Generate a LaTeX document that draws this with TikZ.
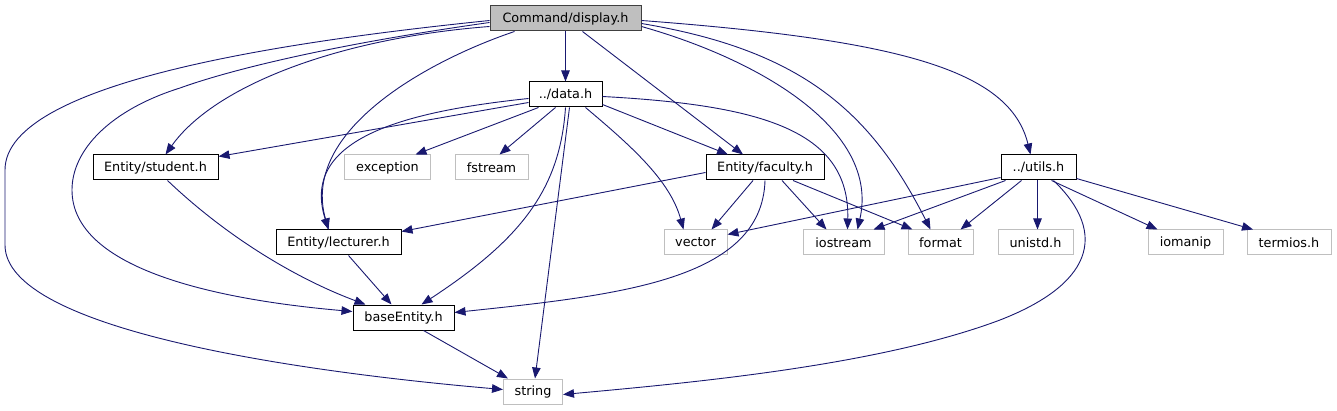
\documentclass[tikz,border=0pt]{standalone}
\usepackage{fontspec}
\setmainfont{DejaVu Sans}
\usepackage{tikz}
\usetikzlibrary{arrows.meta,positioning,calc}
\definecolor{edgeblue}{HTML}{191970}
\definecolor{sysgray}{HTML}{BFBFBF}
\definecolor{topgray}{HTML}{BFBFBF}
\definecolor{frame}{HTML}{404040}

\begin{document}
\begin{tikzpicture}[
  x=1pt,y=-1pt,
  font=\fontsize{12.8}{15}\selectfont,
  file/.style={draw,rectangle,inner sep=0pt,minimum height=25,line width=1pt},
  topfile/.style={file,draw=frame,fill=topgray},
  incfile/.style={file,draw=black},
  sysfile/.style={file,draw=sysgray},
  inc/.style={-{Triangle[length=11pt,width=8.5pt]},line width=0.9pt,draw=edgeblue,fill=none}
]
\useasboundingbox (0,0) rectangle (1337,411);
% files
\node[topfile,minimum width=151] (display) at (565.5,18.5) {Command/display.h};
\node[incfile,minimum width=73] (data) at (565.5,94.5) {../data.h};
\node[incfile,minimum width=125] (student) at (155.5,167.5) {Entity/student.h};
\node[sysfile,minimum width=86] (exception) at (387.5,167.5) {exception};
\node[sysfile,minimum width=73] (fstream) at (491.5,167.5) {fstream};
\node[incfile,minimum width=118] (faculty) at (765,167.5) {Entity/faculty.h};
\node[incfile,minimum width=75] (utils) at (1038.5,167.5) {../utils.h};
\node[incfile,minimum width=125] (lecturer) at (338.5,242.5) {Entity/lecturer.h};
\node[sysfile,minimum width=63] (vector) at (695.5,242.5) {vector};
\node[sysfile,minimum width=81] (iostream) at (843.5,242.5) {iostream};
\node[sysfile,minimum width=65] (format) at (940.5,242.5) {format};
\node[sysfile,minimum width=75] (unistd) at (1035.5,242.5) {unistd.h};
\node[sysfile,minimum width=75] (iomanip) at (1185.5,242.5) {iomanip};
\node[sysfile,minimum width=84] (termios) at (1289,242.5) {termios.h};
\node[incfile,minimum width=101] (baseEntity) at (403.5,317.5) {baseEntity.h};
\node[sysfile,minimum width=59] (string) at (533,391.5) {string};

% includes of display.h
\draw[inc] (display.south) -- (data.north);
\draw[inc] ($(display.south west)+(0,-5)$) .. controls (340,38) and (215,85) .. ($(student.north)+(10,0)$);
\draw[inc] ($(display.west)+(0,4)$) .. controls (330,45) and (230,70) .. (180,88)
  .. controls (110,110) and (72,150) .. (72,190)
  .. controls (72,270) and (220,300) .. ($(baseEntity.west)+(0,-6)$);
\draw[inc] ($(display.west)+(0,2)$) .. controls (300,40) and (5,80) .. (5,170) -- (5,245)
  .. controls (5,330) and (300,372) .. ($(string.west)+(0,-2)$);
\draw[inc] ($(display.south west)+(25,0)$) .. controls (430,60) and (300,130) .. ($(lecturer.north)+(-10,0)$);
\draw[inc] ($(display.south)+(17,0)$) -- ($(faculty.north)+(-22,0)$);
\draw[inc] ($(display.east)+(0,8)$) .. controls (760,60) and (880,130) .. ($(iostream.north)+(14,0)$);
\draw[inc] ($(display.east)+(0,5)$) .. controls (800,50) and (870,110) .. ($(format.north)+(-10,0)$);
\draw[inc] ($(display.east)+(0,2)$) .. controls (900,40) and (1010,70) .. ($(utils.north)+(-8,0)$);

% includes of data.h
\draw[inc] ($(data.west)+(0,8)$) -- ($(student.north east)+(0,2)$);
\draw[inc] ($(data.west)+(0,4)$) .. controls (400,112) and (300,140) .. ($(lecturer.north)+(-10,0)$);
\draw[inc] ($(data.south west)+(10,0)$) -- ($(exception.north)+(28,0)$);
\draw[inc] ($(data.south)+(-10,0)$) -- ($(fstream.north)+(8,0)$);
\draw[inc] ($(data.east)+(0,10)$) -- ($(faculty.north)+(-37,0)$);
\draw[inc] ($(data.south)+(20,0)$) .. controls (630,145) and (670,180) .. ($(vector.north)+(-12,0)$);
\draw[inc] ($(data.east)+(0,2)$) .. controls (760,105) and (850,130) .. ($(iostream.north)+(4,0)$);
\draw[inc] (data.south) .. controls (560,190) and (520,240) .. ($(baseEntity.north)+(18,0)$);
\draw[inc] ($(data.south)+(4,0)$) -- ($(string.north)+(2,0)$);

\draw[inc] ($(student.south)+(12,0)$) .. controls (230,240) and (300,280) .. ($(baseEntity.north)+(-38,0)$);

% includes of faculty.h
\draw[inc] ($(faculty.west)+(0,5)$) -- ($(lecturer.north east)+(0,2)$);
\draw[inc] ($(faculty.south)+(-12,0)$) -- ($(vector.north)+(16,0)$);
\draw[inc] ($(faculty.south)+(17,0)$) -- ($(iostream.north)+(-17,0)$);
\draw[inc] ($(faculty.south)+(28,0)$) -- ($(format.north)+(-28,0)$);
\draw[inc] (faculty.south) .. controls (762,280) and (620,295) .. ($(baseEntity.east)+(0,-5)$);

% includes of utils.h
\draw[inc] ($(utils.west)+(0,10)$) -- ($(vector.east)+(0,-8)$);
\draw[inc] ($(utils.south)+(-33,0)$) -- ($(iostream.north)+(30,0)$);
\draw[inc] ($(utils.south)+(-17,0)$) -- ($(format.north)+(20,0)$);
\draw[inc] ($(utils.south)+(-1,0)$) -- ($(unistd.north)+(2,0)$);
\draw[inc] ($(utils.south)+(13,0)$) -- ($(iomanip.north)+(-28,0)$);
\draw[inc] ($(utils.south east)+(0,-2)$) -- ($(termios.north)+(-36,0)$);
\draw[inc] ($(utils.south)+(15,0)$) .. controls (1110,235) and (1090,285) .. (1000,320)
  .. controls (880,365) and (700,382) .. ($(string.east)+(0,3)$);

\draw[inc] ($(lecturer.south)+(10,0)$) -- ($(baseEntity.north)+(-12,0)$);
\draw[inc] ($(baseEntity.south)+(20,0)$) -- ($(string.north)+(-25,0)$);
\end{tikzpicture}
\end{document}
